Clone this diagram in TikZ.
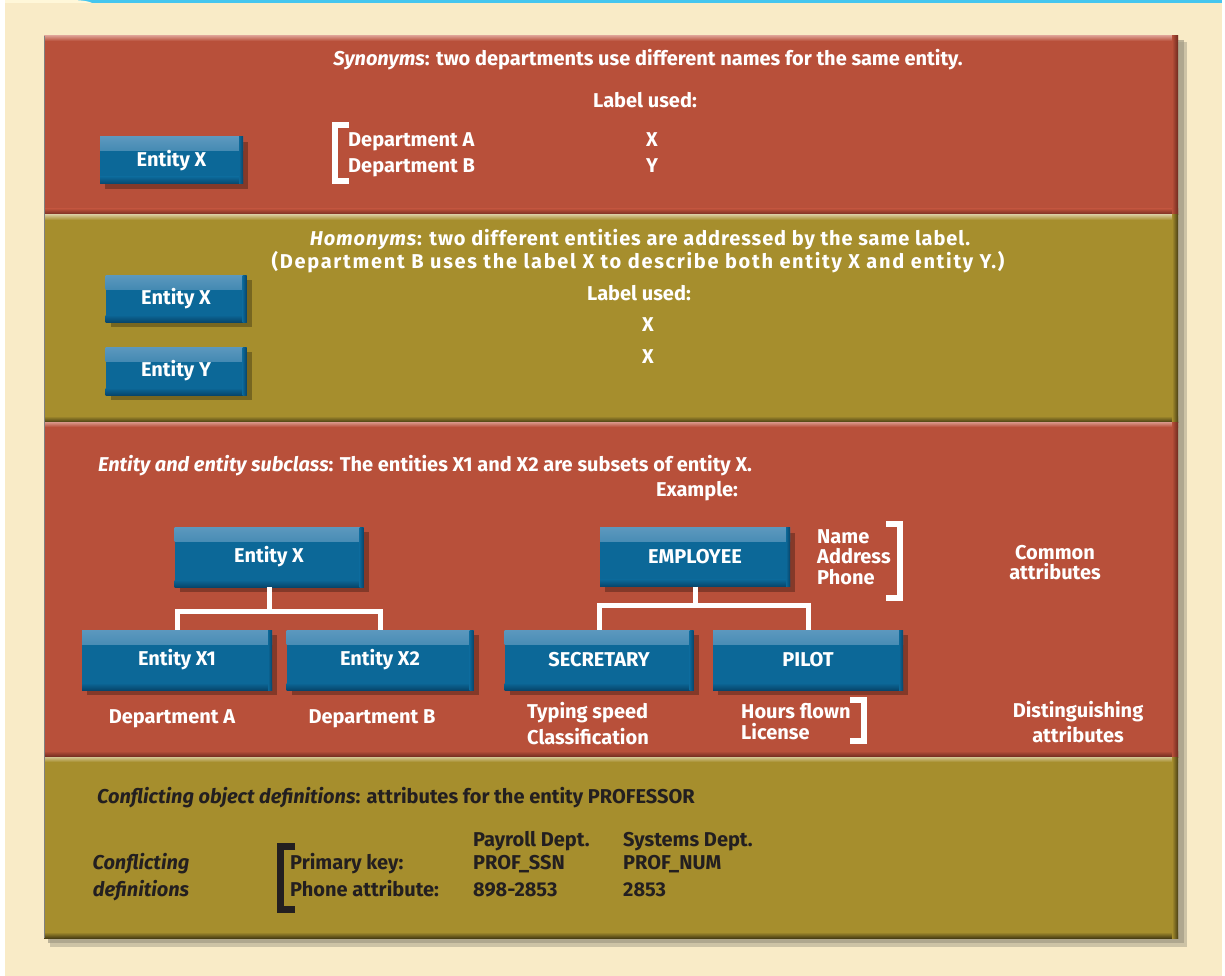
\documentclass[tikz,border=0pt]{standalone}
\usepackage{fontspec}
\setmainfont{Fira Sans}
\usetikzlibrary{shadows}

\definecolor{cream}{HTML}{F9EBC7}
\definecolor{creamlight}{HTML}{FFF7D9}
\definecolor{topblue}{HTML}{45C6EF}
\definecolor{redpanel}{HTML}{B8503A}
\definecolor{redhi}{HTML}{D9978A}
\definecolor{reddark}{HTML}{6E2A1E}
\definecolor{olivepanel}{HTML}{A68E2D}
\definecolor{olivehi}{HTML}{D2C490}
\definecolor{olivedark}{HTML}{4A3F14}
\definecolor{entblue}{HTML}{0C6898}
\definecolor{enthi}{HTML}{5C98BE}
\definecolor{entdark}{HTML}{07466C}
\definecolor{darktext}{HTML}{231F20}
\definecolor{stackshadow}{HTML}{A39C86}

% one horizontal band of the stacked frame
\newcommand{\bandpanel}[5]{%
  \fill[#3] (44,#1) rectangle (1178,#2);
  \shade[top color=#4, bottom color=#3] (44,#1) rectangle (1178,#1+5);
  \shade[top color=#3, bottom color=#5] (44,#2-6) rectangle (1178,#2);
  \shade[left color=#3, right color=#5] (1172,#1) rectangle (1178,#2);
}

\tikzset{
  txtfont/.style={font=\bfseries\fontsize{20}{24}\selectfont},
  ent/.style={fill=entblue, text=white, inner sep=0pt, txtfont,
    drop shadow={shadow xshift=5pt, shadow yshift=-5pt, opacity=0.28, fill=black},
    path picture={
      \shade[top color=enthi, bottom color=entblue]
        (path picture bounding box.north west) rectangle
        ([yshift=-14pt]path picture bounding box.north east);
      \shade[top color=entblue, bottom color=entdark]
        ([yshift=7pt]path picture bounding box.south west) rectangle
        (path picture bounding box.south east);
      \shade[left color=entblue, right color=entdark]
        ([xshift=-4pt]path picture bounding box.north east) rectangle
        (path picture bounding box.south east);
    }},
  lt/.style={text=white, inner sep=0pt, txtfont},
  dk/.style={text=darktext, inner sep=0pt, txtfont},
  conn/.style={white, line width=5pt},
  brk/.style={white, line width=6pt, line join=miter},
  dbrk/.style={darktext, line width=7pt, line join=miter},
}

\begin{document}
\begin{tikzpicture}[x=1pt, y=-1pt]
\useasboundingbox (0,0) rectangle (1225,976);

% page ground
\fill[white] (0,0) rectangle (1225,976);
\fill[cream] (5,3) rectangle (1222,976);
\fill[topblue] (5,0) rectangle (1222,3);
\fill[creamlight] (5,0) -- (70,0) .. controls (85,0) and (90,2) .. (92,3) -- (5,3) -- cycle;

% shadow behind the stacked frame
\fill[stackshadow, opacity=0.5] (50,42) rectangle (1187,947);
\fill[stackshadow, opacity=0.7] (48,40) rectangle (1184,943);

% the four bands
\bandpanel{36}{215}{redpanel}{redhi}{reddark}
\bandpanel{215}{422}{olivepanel}{olivehi}{olivedark}
\bandpanel{422}{757}{redpanel}{redhi}{reddark}
\bandpanel{757}{938}{olivepanel}{olivehi}{olivedark}
\draw[gray, line width=1pt] (44.5,36) -- (44.5,938);

% ---------- Synonyms ----------
\node[lt, anchor=base] (syntitle) at (648,66)
  {\textit{Synonyms}: two departments use different names for the same entity.};
\node[lt, anchor=base] (synlabel) at (645,108) {Label used:};
\node[ent, minimum width=143pt, minimum height=47pt] (synx) at (171.5,160.5) {Entity X};
\node[lt, anchor=base west] (syndepa) at (348,147) {Department A};
\node[lt, anchor=base west] (syndepb) at (348,173) {Department B};
\node[lt, anchor=base] (synlx) at (652,147) {X};
\node[lt, anchor=base] (synly) at (652,173) {Y};
\draw[brk] (349,125) -- (335,125) -- (335,181) -- (349,181);

% ---------- Homonyms ----------
\node[lt, anchor=base] (homtitle) at (640,246)
  {\addfontfeatures{LetterSpace=4.5}\textit{Homonyms}: two different entities are addressed by the same label.};
\node[lt, anchor=base] (homnote) at (638,269)
  {\addfontfeatures{LetterSpace=8.5}(Department B uses the label X to describe both entity X and entity Y.)};
\node[lt, anchor=base] (homlabel) at (639,300) {Label used:};
\node[lt, anchor=base] (homlx) at (648,331) {X};
\node[lt, anchor=base] (homly) at (648,363) {X};
\node[ent, minimum width=141pt, minimum height=47pt] (homx) at (176,298.5) {Entity X};
\node[ent, minimum width=141pt, minimum height=48pt] (homy) at (176,371) {Entity Y};

% ---------- Entity and entity subclass ----------
\node[lt, anchor=base west] (subtitle) at (98,471)
  {\textit{Entity and entity subclass}: The entities X1 and X2 are subsets of entity X.};
\node[lt, anchor=base] (example) at (697,496) {Example:};

\node[ent, minimum width=189pt, minimum height=60pt] (ex) at (269,557) {Entity X};
\node[ent, minimum width=190pt, minimum height=60pt] (ex1) at (177,660) {Entity X1};
\node[ent, minimum width=187pt, minimum height=60pt] (ex2) at (380,660) {Entity X2};
\draw[conn] (ex.south) -- ++(0,24) coordinate (exmid);
\draw[conn] (ex1.north) |- (exmid) -| (ex2.north);
\node[lt, anchor=base] (depa) at (172,723) {Department A};
\node[lt, anchor=base] (depb) at (372,723) {Department B};

\node[ent, minimum width=190pt, minimum height=59pt] (emp) at (695,557) {EMPLOYEE};
\node[ent, minimum width=189pt, minimum height=60pt] (sec) at (599,660) {SECRETARY};
\node[ent, minimum width=190pt, minimum height=60pt] (pil) at (808,660) {PILOT};
\draw[conn] (emp.south) -- ++(0,18.5) coordinate (empmid);
\draw[conn] (sec.north) |- (empmid) -| (pil.north);

\node[lt, anchor=base west] (aname) at (817,543) {Name};
\node[lt, anchor=base west] (aaddr) at (817,563) {Address};
\node[lt, anchor=base west] (aphone) at (817,584) {Phone};
\draw[brk] (886,524) -- (900,524) -- (900,598) -- (886,598);
\node[lt, anchor=base] (common1) at (1055,559) {Common};
\node[lt, anchor=base] (common2) at (1055,579) {attributes};

\node[lt, anchor=base west] (typing) at (527,718) {Typing speed};
\node[lt, anchor=base west] (classif) at (527,744) {Classification};
\node[lt, anchor=base west] (hours) at (741,718) {Hours flown};
\node[lt, anchor=base west] (license) at (741,739) {License};
\draw[brk] (850,700) -- (864,700) -- (864,741) -- (850,741);
\node[lt, anchor=base] (dist1) at (1078,717) {Distinguishing};
\node[lt, anchor=base] (dist2) at (1078,742) {attributes};

% ---------- Conflicting object definitions ----------
\node[dk, anchor=base west] (contitle) at (97,803)
  {\textit{Conflicting object definitions}: attributes for the entity PROFESSOR};
\node[dk, anchor=base west] (payroll) at (473,846) {Payroll Dept.};
\node[dk, anchor=base west] (systems) at (623,846) {Systems Dept.};
\node[dk, anchor=base] (conf1) at (141,869) {\textit{Conflicting}};
\node[dk, anchor=base] (conf2) at (141,896) {\textit{definitions}};
\draw[dbrk] (295,846.5) -- (280.5,846.5) -- (280.5,909.5) -- (295,909.5);
\node[dk, anchor=base west] (pkey) at (290,869) {Primary key:};
\node[dk, anchor=base west] (phone) at (290,896) {Phone attribute:};
\node[dk, anchor=base west] (pssn) at (473,869) {PROF\_SSN};
\node[dk, anchor=base west] (pnum) at (473,896) {898-2853};
\node[dk, anchor=base west] (snum) at (623,869) {PROF\_NUM};
\node[dk, anchor=base west] (sext) at (623,896) {2853};
\end{tikzpicture}
\end{document}
